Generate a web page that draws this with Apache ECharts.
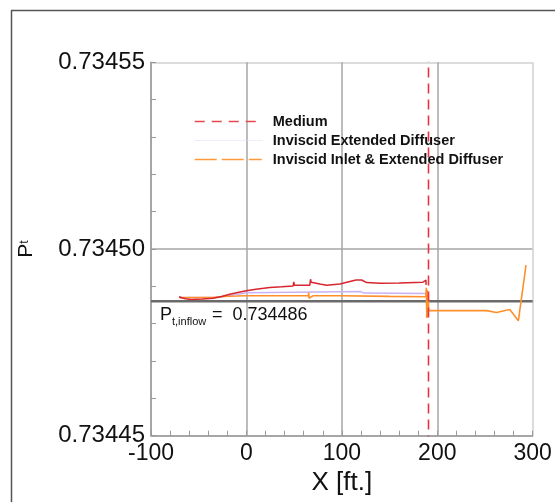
<!DOCTYPE html>
<html><head><meta charset="utf-8">
<script src="https://cdn.jsdelivr.net/npm/echarts@6/dist/echarts.min.js"></script>
<style>html,body{margin:0;padding:0;background:#fff}#c{width:555px;height:502px}</style>
</head><body><div id="c"></div>
<script>
// ---- data ----
const xTickValues = [-100, 0, 100, 200, 300];
const yTickValues = [0.73445, 0.73450, 0.73455];

const mediumX = [190.8, 190.8];
const mediumY = [0.73460, 0.73440];

const mediumProfileX = [-70.7, -64, -57.7, -46, -35, -26, -17.5, -8, 0, 10, 24.5, 37, 49, 49.6, 50.2, 53.8, 60, 66.4, 67.2, 67.8, 69.6, 77, 84, 98, 108.4, 115, 120.7, 126, 140, 160, 185, 188.1, 188.3];
const mediumProfileY = [0.7344872, 0.7344867, 0.7344865, 0.7344866, 0.7344868, 0.7344873, 0.7344879, 0.7344884, 0.7344888, 0.7344892, 0.7344897, 0.7344899, 0.7344901, 0.7344912, 0.7344903, 0.7344903, 0.7344903, 0.7344903, 0.7344919, 0.7344911, 0.734491, 0.7344906, 0.7344903, 0.7344906, 0.7344913, 0.7344917, 0.7344917, 0.734491, 0.7344908, 0.7344909, 0.7344911, 0.7344917, 0.7344904];

const invExtX = [-70, -30, -15, 0, 50, 120, 123, 188];
const invExtY = [0.734487, 0.734487, 0.7344876, 0.7344883, 0.7344884, 0.7344886, 0.7344882, 0.7344881];

const invInletX = [-70, -60, -35, -25, -10, 0, 50, 65, 65.3, 65.6, 70, 98, 150, 188, 188.5, 189, 189.5, 190, 190.5, 191, 192.3, 251.8, 262, 276, 285, 293];
const invInletY = [0.7344869, 0.734487, 0.734487, 0.7344873, 0.7344874, 0.7344875, 0.7344875, 0.7344875, 0.7344883, 0.7344868, 0.7344875, 0.7344875, 0.7344873, 0.7344872, 0.7344896, 0.7344815, 0.734489, 0.7344818, 0.7344885, 0.7344835, 0.7344835, 0.7344835, 0.734483, 0.7344838, 0.7344808, 0.7344957];

const inflowValue = 0.734486;
const inflowText = '0.734486';

const zip = (xs, ys) => xs.map((x, i) => [x, ys[i]]);

const chart = echarts.init(document.getElementById('c'), null, {renderer: 'canvas'});
const FONT = 'Liberation Sans, Arial, Helvetica, sans-serif';
const xMin = xTickValues[0], xMax = xTickValues[xTickValues.length - 1];
const noSym = {opacity: 0};

chart.setOption({
  animation: false,
  backgroundColor: '#fff',
  grid: {left: 151, right: 22.3, top: 62.3, bottom: 66.3, containLabel: false},
  xAxis: {
    type: 'value', min: xMin, max: xMax, interval: 100,
    name: 'X [ft.]', nameLocation: 'middle', nameGap: 34,
    nameTextStyle: {fontFamily: FONT, fontSize: 26, color: '#111'},
    axisLine: {show: true, onZero: false, lineStyle: {color: '#a0a0a0', width: 1.5}},
    axisTick: {show: true, inside: true, length: 5, lineStyle: {color: '#999'}},
    minorTick: {show: true, splitNumber: 5, length: 5, lineStyle: {color: '#999'}},
    axisLabel: {fontFamily: FONT, fontSize: 23, color: '#111', margin: 6},
    splitLine: {show: true, lineStyle: {color: ['#a0a0a0', '#a6a6a6', '#a6a6a6', '#a6a6a6', '#d0d0d0'], width: 1.5}}
  },
  yAxis: {
    type: 'value', min: yTickValues[0], max: yTickValues[yTickValues.length - 1], interval: 0.00005,
    axisLine: {show: true, onZero: false, lineStyle: {color: '#a0a0a0', width: 1.5}},
    axisTick: {show: true, inside: true, length: 5, lineStyle: {color: '#999'}},
    minorTick: {show: true, splitNumber: 5, length: 5, lineStyle: {color: '#999'}},
    axisLabel: {fontFamily: FONT, fontSize: 24, color: '#111', margin: 6, formatter: v => v.toFixed(5)},
    splitLine: {show: true, lineStyle: {color: ['#a0a0a0', '#a6a6a6', '#d0d0d0'], width: 1.5}}
  },
  legend: {
    orient: 'vertical', left: 194, top: 114, padding: 0,
    itemWidth: 67, itemHeight: 14, itemGap: 4,
    textStyle: {fontFamily: FONT, fontSize: 14.5, fontWeight: 'bold', color: '#111', padding: [0, 0, 0, 6]},
    data: [
      {name: 'Medium', itemStyle: noSym, lineStyle: {color: '#e8484c', width: 1.5, type: [10, 7]}},
      {name: 'Inviscid Extended Diffuser', itemStyle: noSym, lineStyle: {color: '#e2dbf7', width: 1, type: 'dotted'}},
      {name: 'Inviscid Inlet & Extended Diffuser', itemStyle: noSym, lineStyle: {color: '#ff9a3c', width: 1.5, type: [22, 5]}}
    ]
  },
  series: [
    {
      name: 'inflow', type: 'line', symbol: 'none', z: 2, silent: true,
      data: [[xMin, inflowValue], [xMax, inflowValue]],
      lineStyle: {color: '#6a6a6a', width: 2.5}, itemStyle: {color: '#6a6a6a'}
    },
    {
      name: 'Inviscid Extended Diffuser', type: 'line', symbol: 'none', z: 3,
      data: zip(invExtX, invExtY),
      lineStyle: {color: '#c9b2f2', width: 1.5}, itemStyle: {color: '#c9b2f2'}
    },
    {
      name: 'Inviscid Inlet & Extended Diffuser', type: 'line', symbol: 'none', z: 4,
      data: zip(invInletX, invInletY),
      lineStyle: {color: '#ff8f2a', width: 1.6}, itemStyle: {color: '#ff8f2a'}
    },
    {
      name: 'Medium profile', type: 'line', symbol: 'none', z: 5,
      data: zip(mediumProfileX, mediumProfileY),
      lineStyle: {color: '#d8262e', width: 1.5}, itemStyle: {color: '#d8262e'}
    },
    {
      name: 'Medium', type: 'line', symbol: 'none', z: 6,
      data: zip(mediumX, mediumY),
      lineStyle: {color: '#e8343c', width: 1.6, type: [10, 6]}, itemStyle: {color: '#e8343c'}
    }
  ],
  graphic: [
    {type: 'line', z: 10, shape: {x1: 11, y1: 10.5, x2: 555, y2: 10.5}, style: {stroke: '#555', lineWidth: 1.5}},
    {type: 'line', z: 10, shape: {x1: 11.5, y1: 10.5, x2: 11.5, y2: 502}, style: {stroke: '#555', lineWidth: 1.5}},
    {type: 'text', z: 10, x: 36.5, y: 249, rotation: Math.PI / 2,
      style: {text: '{p|P}{t|t}', align: 'center', verticalAlign: 'bottom', fill: '#111',
        rich: {p: {fontFamily: FONT, fontSize: 21, fill: '#111', verticalAlign: 'bottom'},
               t: {fontFamily: FONT, fontSize: 12, fill: '#111', verticalAlign: 'bottom', padding: [0, 0, 6, 0]}}}},
    {type: 'text', z: 10, x: 160, y: 306, style: {text: 'P', fontFamily: FONT, fontSize: 18, fill: '#111'}},
    {type: 'text', z: 10, x: 172, y: 316, style: {text: 't,inflow', fontFamily: FONT, fontSize: 11, fill: '#111'}},
    {type: 'text', z: 10, x: 212, y: 306, style: {text: '=  ' + inflowText, fontFamily: FONT, fontSize: 18, fill: '#111'}}
  ]
});
</script>
</body></html>
